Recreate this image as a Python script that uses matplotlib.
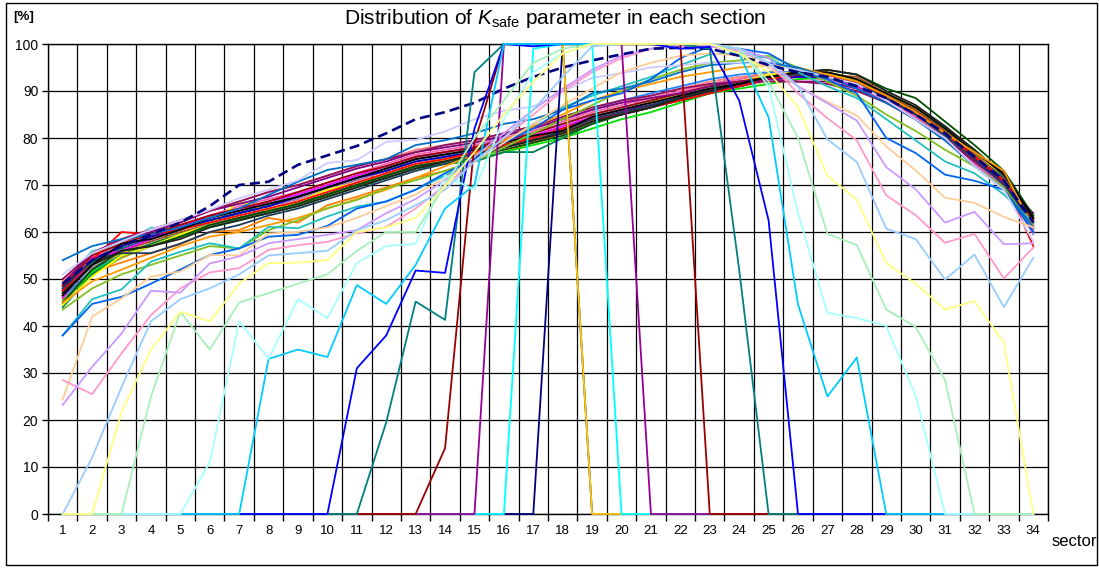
import numpy as np
import matplotlib
matplotlib.use("Agg")
import matplotlib.pyplot as plt
from matplotlib.patches import Rectangle

plt.rcParams['font.family'] = ['Liberation Sans', 'DejaVu Sans']
plt.rcParams['mathtext.fontset'] = 'custom'
plt.rcParams['mathtext.rm'] = 'Liberation Sans'
plt.rcParams['mathtext.it'] = 'Liberation Sans:italic'
plt.rcParams['mathtext.bf'] = 'Liberation Sans:bold'

sectors = list(range(1, 35))
y_ticks = list(range(0, 101, 10))

# ---- main bundle of series ----
b_black = [46.5, 53, 57.5, 58.5, 60.5, 63, 64.5, 66, 67.5, 69.5, 71.5, 73.5, 75.5, 76.5, 77.5, 79, 80.5, 81.5, 84.5, 86, 87.5, 89, 90.5, 91.5, 93, 94, 94, 92.5, 89.5, 86.5, 82, 77, 72.5, 63]
b_red = [47.5, 54, 60, 59.5, 60.5, 62, 63.5, 65, 66.5, 68.5, 70.5, 72.5, 74.5, 75.5, 77, 78.5, 80, 82, 84, 85, 86.5, 88, 89.5, 91, 92.5, 93.5, 93.5, 91.5, 89, 85.5, 81, 76, 71, 57]
b_magenta = [46, 54.5, 56, 58.5, 61, 63.5, 64.5, 66.5, 68, 70, 72, 74, 76, 77, 78, 79.5, 80.5, 82.5, 84.5, 86, 87, 88.5, 90, 91, 92.5, 93, 93, 91, 88.5, 85.5, 81, 76, 71, 61]
b_yellow = [44.5, 50.5, 55, 57, 59.5, 61.5, 66.5, 64.5, 66.5, 69, 70.5, 72.5, 74.5, 75.5, 77, 78.5, 80.5, 82, 84, 85.5, 87.5, 89.5, 91, 92, 93.5, 94, 93.5, 92.5, 89.5, 86.5, 82, 77, 72, 62]
b_dkgreen = [45, 52, 56, 57, 59, 61.5, 63, 64.5, 66, 68, 70, 72, 74, 75, 76, 77.5, 79, 80.5, 83, 85, 86.5, 88.5, 90, 91.5, 93, 94, 94.5, 93.5, 90.5, 88.5, 83.5, 78.5, 73, 63.5]
b_gray = [47, 52.5, 55.5, 57.5, 59.5, 61.5, 63, 64.5, 66, 68, 70, 72, 74, 75, 76.5, 78, 79.5, 81, 83.5, 85, 86.5, 88, 89.5, 91, 92.5, 93, 93, 91, 88, 84.5, 80, 75, 70, 60]
b_slate = [48, 54, 55.5, 55.5, 57.5, 60, 61.5, 63.5, 65, 67, 69, 71, 73, 74.5, 76, 78, 79.5, 81.5, 84, 85.5, 87, 88.5, 90, 91.5, 93, 93.5, 93, 91.5, 88.5, 85, 80.5, 75.5, 70, 62]
b_purple = [49, 55.5, 58, 60, 62, 64.5, 66, 67.5, 69.5, 71.5, 73.5, 75, 77, 78, 79, 80.5, 82, 84, 86, 87.5, 88.5, 89.5, 91, 92, 92.5, 92, 92, 90.5, 87.5, 84, 80, 75, 70.5, 64]
b_dkred = [48.5, 55, 57.5, 59.5, 61.5, 63.5, 65, 66.5, 68.5, 70.5, 72.5, 74, 76, 77, 78, 79.5, 81, 83, 85, 86.5, 88, 89.5, 91, 92, 93, 93.5, 93, 92, 89, 85.5, 81, 76, 71, 62.5]
b_orange = [46.5, 51.5, 53.5, 55.5, 57.5, 60, 60.4, 63, 62, 65.7, 67.5, 69.5, 71.5, 73, 75, 77, 79, 81, 83.5, 85.5, 87.5, 89.5, 91.5, 92.5, 94, 94, 93.5, 92, 89, 86, 81, 76.5, 72.5, 60]
b_olive = [45.5, 51, 54.5, 57, 59, 61, 62.5, 64.5, 66, 68, 70, 72, 74, 75.5, 76.5, 78, 79.5, 81.5, 84, 85.5, 87.5, 89, 90.5, 92, 93, 93.5, 93, 91, 88, 84, 79.5, 75, 70, 61]
b_teal = [47, 53.5, 56.5, 58.5, 60.5, 62.5, 64, 65.5, 67.5, 69.5, 71.5, 73.5, 75.5, 76.5, 77.5, 79, 80.5, 82, 84.5, 86, 87.5, 89, 90.5, 91.5, 93, 93.5, 93, 91.5, 89, 85.5, 82, 77, 71.5, 62]
b_pink = [48, 54.5, 57, 59, 61.5, 63.5, 65.5, 67, 68.5, 70.5, 72.5, 74.5, 76.5, 77.5, 78.5, 80, 81.5, 83.5, 85.5, 87, 88.5, 90, 91.5, 92.5, 93.5, 93.5, 92.5, 91, 88, 84.5, 80, 74.5, 69.5, 60.5]
b_salmon = [49.5, 55.5, 58.5, 60.5, 62.5, 64.5, 66.5, 68.5, 70, 72, 74, 75.5, 77.5, 78.5, 79.5, 81, 82.5, 84, 86, 87.5, 89, 90.5, 92, 93, 93.5, 94, 93.5, 92, 88.5, 85, 80.5, 75.5, 70.5, 61.5]
b_blue = [48.5, 54, 57, 59, 61, 62.5, 64, 65.5, 67.5, 69.5, 71.5, 73, 75, 76, 77, 78.5, 80, 82, 84, 85.5, 87, 88.5, 90, 91, 92.5, 93, 93, 91.5, 88.5, 85, 81, 76, 70.5, 61]
b_green = [45, 51.5, 55, 57, 59, 61, 62.5, 64, 65.5, 67.5, 69.5, 71.5, 73.5, 74.5, 75.5, 77, 78.5, 80, 82, 84, 85.5, 87.5, 89.5, 90.5, 91.5, 92.5, 93, 91.5, 89, 86, 82, 77.5, 72, 63]
b_brown = [47.5, 53, 56, 58, 60, 61.5, 63, 64.5, 66, 68, 70, 72, 74, 75, 76.5, 78, 79.5, 81, 83.5, 85, 87, 88.5, 90, 91.5, 93, 93.5, 93.5, 93, 89.5, 86, 81.5, 76.5, 72, 62]
b_seagreen = [44, 51, 55, 57.5, 59.5, 61.5, 63, 64.5, 66, 68, 70, 71.5, 73.5, 74.5, 75, 77, 77, 80, 83, 85, 86.5, 88, 89.5, 91, 92.5, 93.5, 93.5, 92.5, 89.5, 86.5, 82.5, 77, 71.5, 62.5]
b_ltpurple = [48, 53.5, 56.5, 58.5, 60.5, 62.5, 64, 65.5, 67, 69, 71, 73, 75, 76, 77, 79, 80.5, 82, 84, 85.5, 87.5, 89, 90.5, 91.5, 92.5, 93, 92.5, 91, 88, 84.5, 80, 75, 70, 59.5]
b_gold = [46, 52, 55.5, 57.5, 59.5, 61.5, 63, 64.5, 66, 68, 70, 72, 74, 75.5, 76.5, 78, 79.5, 81.5, 84, 85.5, 87.5, 89, 90.5, 91.5, 93, 94, 94, 92.5, 89.5, 86, 81.5, 76.5, 71.5, 62]
b_black2 = [47, 53, 56, 57, 58.5, 61, 62.5, 64, 65.5, 67.5, 69.5, 71.5, 73.5, 75, 76.5, 78, 79.5, 81, 83.5, 85, 86.5, 88.5, 90, 91.5, 93, 94, 94.5, 93.5, 90, 87, 82.5, 77.5, 72, 63]
b_silver = [48.5, 54.5, 57.5, 59.5, 61.5, 63.5, 65, 66.5, 68, 70, 72, 74, 76, 77, 78, 79.5, 81, 83, 85, 86.5, 88, 89.5, 91, 92, 93, 93.5, 93, 91.5, 88.5, 85, 80.5, 75.5, 70.5, 60.5]
b_tan = [47.5, 53.5, 56.5, 58.5, 60.5, 62.5, 64, 65.5, 67, 69, 71, 73, 75, 76, 77, 78.5, 80, 81.5, 84, 85.5, 87, 88.5, 90, 91, 92, 92.5, 92.5, 91, 88, 84.5, 80, 75, 70, 61.5]
b_plum = [50, 55.5, 58.5, 60.5, 62.5, 64.5, 66.5, 68.5, 70, 72, 74, 75.5, 77, 78.5, 79.5, 81, 82.5, 84.5, 86.5, 88, 89, 90.5, 91.5, 92, 92, 92, 91.5, 90, 87.5, 84, 80, 75, 70.5, 63]
b_turq = [49, 56, 57, 61, 59.5, 62, 64, 66, 68, 70, 72, 74, 76, 77, 78, 79.5, 81, 83, 85, 86.5, 88, 89.5, 91, 92, 93, 93.5, 93, 91.5, 88.5, 85, 81, 76, 71, 61]
b_azure = [46, 52, 55, 57, 59, 61, 62.5, 64, 66, 68, 70, 72, 74, 76, 78, 80.5, 82.5, 84, 86, 88, 89.5, 91, 92.5, 93.5, 94, 94, 93, 91, 88, 84, 79.5, 74.5, 69.5, 60]

# ---- series spreading out of the bundle ----
s_upblue = [54, 57, 58.5, 59.5, 61, 63, 65, 67.9, 70.7, 73.2, 74.3, 75.5, 78.5, 79.5, 81, 83, 84, 86, 89.5, 90.5, 92, 94, 95.5, 96, 96, 95, 93, 90.5, 87.5, 84, 79.5, 74, 69, 61]
s_lavender = [51, 55.5, 58, 60.5, 62.5, 64.7, 67.2, 69, 71, 74.7, 75.3, 79.2, 79.6, 81.4, 84, 85.8, 86.7, 89.9, 92.8, 93.8, 95, 95.5, 96, 96, 95.5, 94.5, 93, 91.5, 88, 84, 80, 74, 69, 58]
s_ygreen = [43.5, 48, 51, 53, 55, 57, 56.5, 60.4, 62.5, 65.1, 66.8, 69.3, 71, 73, 75, 78, 81, 84, 87, 90, 92.5, 94.5, 96, 96.5, 97.5, 95, 92, 89, 85, 81.5, 77.5, 74, 69.5, 61]
s_seagreen = [38, 45.7, 47.8, 53.7, 55.8, 57.6, 56.5, 61.1, 60.8, 63.3, 65.4, 66.5, 69, 72, 75, 79, 83, 86.5, 89, 91, 93, 95.5, 97.8, 98, 97, 94, 91, 88.5, 84, 79.5, 75, 72.5, 68, 62]
s_dodger = [38, 44.7, 46.2, 49, 52, 55.1, 56.5, 59, 59.4, 61.3, 65, 66.5, 69, 72.5, 75.5, 79, 82, 86, 88, 89.5, 92.5, 97, 99.5, 99, 98, 94.5, 92.5, 89.5, 80, 76.8, 72.2, 70.9, 69, 60]
s_orange = [45, 49.5, 52, 54.5, 57, 59, 60, 61.5, 63, 65, 67, 69, 71.5, 74, 76.5, 79.5, 82.5, 85, 88, 90, 91.5, 93, 94, 95, 95.5, 95, 93.5, 92, 89, 85.5, 81, 77, 73, 61]
s_peach = [24.4, 42, 45.9, 50.5, 51.6, 55.1, 55, 59.7, 60, 61, 63, 65.5, 68, 71.5, 75, 79, 83, 87, 90.5, 94, 96, 97.5, 98, 97.5, 95, 91, 87.7, 84.8, 78.2, 73.1, 67.3, 66.2, 63.2, 61]
s_pink = [28.5, 25.5, 34.2, 42.3, 48, 51.4, 52.3, 56.2, 57.2, 57.9, 59.7, 61.1, 65, 70, 75, 80, 85, 90, 94, 97, 99, 99.5, 99.5, 98.5, 96, 89.5, 84.2, 79.5, 67.8, 63.6, 57.7, 59.6, 50.1, 56.7]
s_violet = [23.2, 31.3, 38.4, 47.5, 47.1, 53.3, 54.8, 57.6, 58.5, 59.4, 60.4, 64, 67, 71, 76, 81, 86, 90.5, 94.5, 97.5, 99, 99.5, 99.5, 99, 97, 91, 87.4, 83.7, 73.8, 69.1, 62, 64.3, 57.4, 57.6]
s_dashed = [49, 54, 57, 59.5, 62, 65.5, 70, 70.7, 74.3, 76.3, 78.3, 81, 84, 85.5, 87.5, 90.5, 93, 95, 96.5, 97.8, 99, 99.2, 99, 97.5, 95.5, 94, 93, 91, 88.5, 85, 81, 76, 71, 62]

# ---- series that are zero outside a window ----
w_navy = [0, 0, 0, 0, 0, 0, 0, 0, 0, 0, 0, 0, 0, 0, 0, 0, 0, 100, 0, 0, 0, 0, 0, 0, 0, 0, 0, 0, 0, 0, 0, 0, 0, 0]
w_gold = [None] * 17 + [100, 0, 0, 0, 0, 0, 0, 0, 0, 0, 0, 0, 0, 0, 0, 0, 0]
w_cyan = [0, 0, 0, 0, 0, 0, 0, 0, 0, 0, 0, 0, 0, 0, 0, 0, 99, 100, 100, 0, 0, 0, 0, 0, 0, 0, 0, 0, 0, 0, 0, 0, 0, 0]
w_purple = [0, 0, 0, 0, 0, 0, 0, 0, 0, 0, 0, 0, 0, 0, 0, 100, 100, 100, 100, 100, 0, 0, 0, 0, 0, 0, 0, 0, 0, 0, 0, 0, 0, 0]
w_dkred = [0, 0, 0, 0, 0, 0, 0, 0, 0, 0, 0, 0, 0, 14, 79, 100, 100, 100, 100, 100, 100, 100, 0, 0, 0, 0, 0, 0, 0, 0, 0, 0, 0, 0]
w_teal = [0, 0, 0, 0, 0, 0, 0, 0, 0, 0, 0, 19.5, 45.2, 41.3, 94, 100, 100, 100, 100, 100, 100, 100, 99, 52, 0, 0, 0, 0, 0, 0, 0, 0, 0, 0]
w_blue = [0, 0, 0, 0, 0, 0, 0, 0, 0, 0, 31, 38, 51.8, 51.3, 82, 100, 99.5, 100, 100, 100, 100, 99, 99.4, 88, 62.5, 0, 0, 0, 0, 0, 0, 0, 0, 0]
w_skyblue = [0, 0, 0, 0, 0, 0, 0, 33, 35, 33.4, 48.7, 44.7, 53, 65, 70, 100, 100, 100, 100, 100, 100, 100, 100, 98, 84.4, 44.6, 25, 33.3, 0, 0, 0, 0, 0, 0]
w_paleturq = [0, 0, 0, 0, 0, 11, 41, 33, 45.7, 41.7, 53.4, 57, 57.5, 72, 69, 84, 94, 98, 100, 100, 100, 100, 100, 99, 91, 64, 42.8, 41.7, 40, 25.2, 0, 0, 0, 0]
w_ltgreen = [0, 0, 0, 25, 43, 35, 45, 47, 49, 51, 56, 60, 60, 70, 80, 88, 96, 99, 100, 100, 100, 100, 100, 99, 92, 80, 59.6, 57.2, 43.5, 39.8, 28.5, 0, 0, 0]
w_ltyellow = [0, 0, 21.7, 35, 43, 41, 49, 53.4, 53.5, 54, 60, 61, 63, 69.7, 77, 85, 92, 98, 100, 100, 100, 100, 100, 98, 94, 86.6, 72, 66.9, 53.4, 49, 43.5, 45.3, 36.5, 0]
w_paleblue = [0, 12, 27, 41, 45.7, 48, 51, 55, 55.5, 56, 60.4, 62.5, 65.7, 69, 75, 80, 86, 93, 99.5, 100, 100, 100, 100, 99, 96, 91, 79.7, 74.9, 60.7, 58.5, 49.9, 55.2, 44, 54.5]

bundle = [
    (b_tan, '#e0c090'), (b_silver, '#b0b0b0'), (b_gray, '#909090'), (b_olive, '#a0a000'),
    (b_gold, '#e8b800'), (b_orange, '#ff8000'), (b_azure, '#2080ff'), (b_turq, '#40e0d0'),
    (b_ltpurple, '#b070c0'), (b_salmon, '#ff8080'), (b_pink, '#ff60b0'), (b_green, '#00e000'),
    (b_seagreen, '#008050'), (b_teal, '#007070'), (b_brown, '#a05020'), (b_yellow, '#ffff00'),
    (b_magenta, '#ff00ff'), (b_blue, '#0000c0'), (b_dkred, '#a00000'), (b_red, '#ff0000'),
    (b_purple, '#800080'), (b_plum, '#901060'), (b_slate, '#1f3a5f'), (b_dkgreen, '#004d00'),
    (b_black2, '#202020'), (b_black, '#000000'),
]
spread = [
    (s_orange, '#ff9900'), (s_ygreen, '#80c020'), (s_seagreen, '#20c0c0'), (s_dodger, '#0064f0'),
    (s_upblue, '#0070c8'), (s_lavender, '#ccccff'), (s_peach, '#ffcc99'), (s_pink, '#ff99cc'),
    (s_violet, '#cc99ff'),
]
windows = [
    (w_navy, '#000080'), (w_gold, '#ffcc00'), (w_cyan, '#00ffff'), (w_purple, '#990099'),
    (w_dkred, '#990000'), (w_teal, '#008080'), (w_blue, '#0000ff'), (w_skyblue, '#00ccff'),
    (w_paleturq, '#a6ffff'), (w_ltgreen, '#a8f0b8'), (w_paleblue, '#99ccff'), (w_ltyellow, '#ffff80'),
]

fig = plt.figure(figsize=(10.99, 5.68), dpi=100)
ax = fig.add_axes([48 / 1099, 54 / 568, 1000 / 1099, 470 / 568])

x = np.array(sectors, dtype=float)
lw = 1.3
for vals, col in bundle:
    ax.plot(x, np.array(vals, dtype=float), color=col, lw=lw, clip_on=False, zorder=3)
for vals, col in spread:
    ax.plot(x, np.array(vals, dtype=float), color=col, lw=lw, clip_on=False, zorder=3)
ax.plot(x, np.array(s_dashed, dtype=float), color='#000080', lw=1.9, dashes=(3.8, 2.0),
        clip_on=False, zorder=3)
for vals, col in windows:
    ax.plot(x, np.array(vals, dtype=float), color=col, lw=lw, clip_on=False, zorder=3)

ax.set_xlim(0.5, 34.5)
ax.set_ylim(0, 100)
ax.set_xticks(np.arange(0.5, 35, 1.0))
ax.set_xticklabels([])
ax.set_xticks(x, minor=True)
ax.set_xticklabels([str(s) for s in sectors], minor=True, fontsize=9.5)
ax.tick_params(axis='x', which='major', length=5, width=1, direction='out', color='black')
ax.tick_params(axis='x', which='minor', length=0, pad=8)
ax.set_yticks(y_ticks)
ax.set_yticklabels([str(v) for v in y_ticks], fontsize=10)
ax.tick_params(axis='y', length=4, width=1, direction='out', pad=3)
ax.grid(True, which='major', color='black', lw=0.9)
ax.set_axisbelow(True)
for sp in ax.spines.values():
    sp.set_color('black')
    sp.set_linewidth(1.0)
    sp.set_zorder(2)

fig.text(555 / 1099, 1 - 19 / 568, 'Distribution of $\\mathit{K}_{\\mathrm{safe}}$ parameter in each section',
         ha='center', va='center', fontsize=15)
fig.text(13 / 1099, 1 - 17 / 568, '[%]', ha='left', va='center', fontsize=9.5, fontweight='bold')
fig.text(1052 / 1099, 1 - 541 / 568, 'sector', ha='left', va='center', fontsize=12)

fig.patches.append(Rectangle((6 / 1099, 3 / 568), 1091 / 1099, 562 / 568, transform=fig.transFigure,
                             fill=False, edgecolor='black', lw=1.0))

fig.savefig('out.png', dpi=100)
